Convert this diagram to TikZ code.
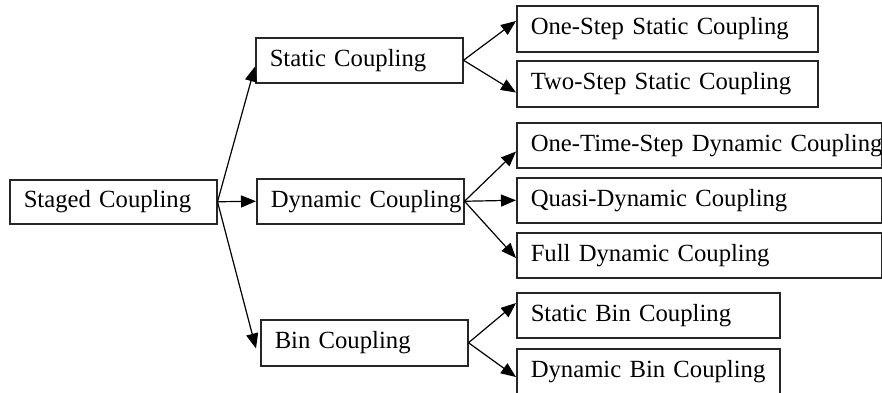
\documentclass[tikz,border=0pt]{standalone}
\usepackage{fontspec}
\setmainfont{Liberation Serif}
\usetikzlibrary{arrows.meta}

\tikzset{
    cbox/.style={draw=black!85, line width=1.5pt, inner sep=0pt, anchor=north west,
        align=left, font=\fontsize{24.7}{28}\selectfont,
        execute at begin node={\hspace*{14pt}}},
    link/.style={line width=1.2pt, -{Triangle[length=15pt,width=12pt]}}
}

\begin{document}
\begin{tikzpicture}[x=1pt,y=-1pt]
    \useasboundingbox (0,0) rectangle (882,392);

    % Root
    \node[cbox, text width=207pt, minimum height=44pt] (staged) at (9,179) {Staged Coupling};

    % Middle level
    \node[cbox, text width=207pt, minimum height=45pt] (static) at (255,37) {Static Coupling};
    \node[cbox, text width=207pt, minimum height=45pt] (dynamic) at (256,178) {Dynamic Coupling};
    \node[cbox, text width=207pt, minimum height=46pt] (bin) at (260,319) {Bin Coupling};

    % Static leaves
    \node[cbox, text width=301pt, minimum height=46pt] (onestep) at (516,5) {One-Step Static Coupling};
    \node[cbox, text width=301pt, minimum height=46pt] (twostep) at (516,60) {Two-Step Static Coupling};

    % Dynamic leaves
    \node[cbox, text width=365pt, minimum height=45pt] (onetime) at (516,122) {\mbox{One-Time-Step Dynamic Coupling}};
    \node[cbox, text width=365pt, minimum height=45pt] (quasi) at (516,177) {Quasi-Dynamic Coupling};
    \node[cbox, text width=365pt, minimum height=45pt] (full) at (516,232) {Full Dynamic Coupling};

    % Bin leaves
    \node[cbox, text width=263pt, minimum height=45pt] (staticbin) at (516,292) {Static Bin Coupling};
    \node[cbox, text width=263pt, minimum height=46pt] (dynbin) at (516,348) {Dynamic Bin Coupling};

    % Connections
    \draw[link] (staged.east) -- ([yshift=17pt]static.south west);
    \draw[link] (staged.east) -- (dynamic.west);
    \draw[link] (staged.east) -- ([xshift=-4pt,yshift=18pt]bin.south west);

    \draw[link] (static.east) -- ([yshift=-16pt]onestep.north west);
    \draw[link] (static.east) -- ([yshift=15pt]twostep.south west);

    \draw[link] (dynamic.east) -- ([yshift=17pt]onetime.south west);
    \draw[link] (dynamic.east) -- (quasi.west);
    \draw[link] (dynamic.east) -- ([yshift=-26pt]full.north west);

    \draw[link] (bin.east) -- ([yshift=-11pt]staticbin.north west);
    \draw[link] (bin.east) -- ([yshift=-29pt]dynbin.north west);
\end{tikzpicture}
\end{document}
